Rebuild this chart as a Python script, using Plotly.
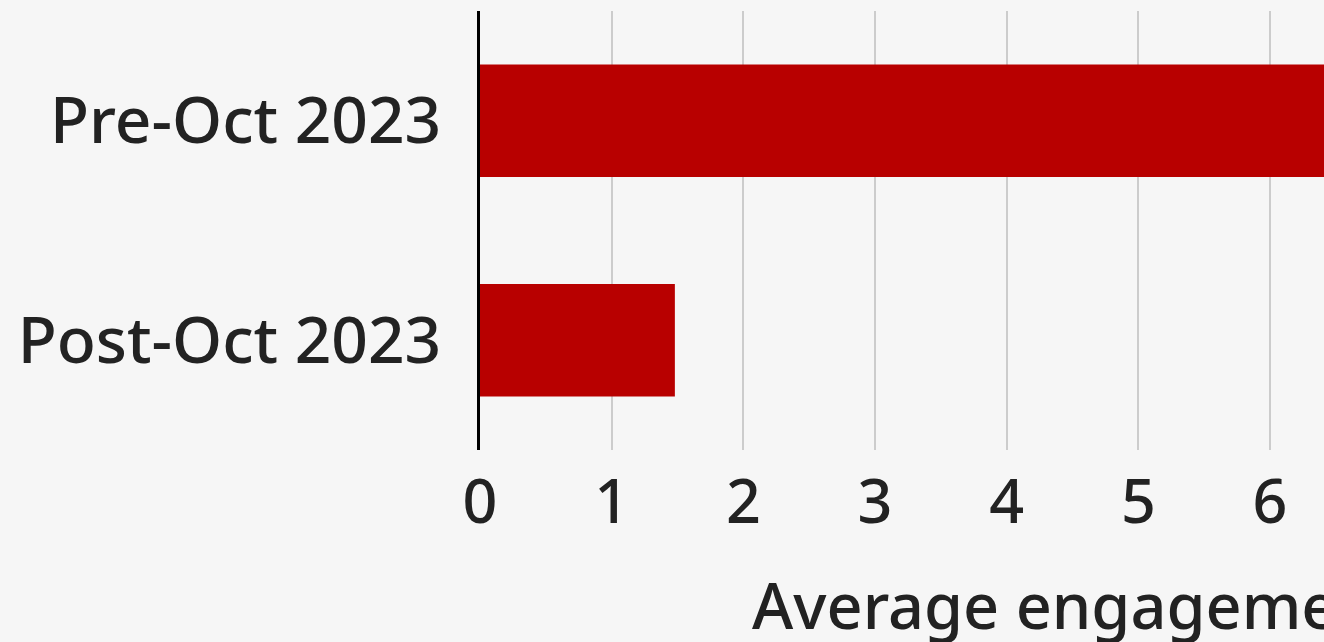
import plotly.graph_objects as go

categories = ["Pre-Oct 2023", "Post-Oct 2023"]
values = [7.6, 1.48]
tick_vals = [0, 1, 2, 3, 4, 5, 6]
axis_title = "Average engagement"

BG = "#f6f6f6"
RED = "#b80000"
TXT = "#222222"
FONT = "Noto Sans"
WEIGHT = 500

fig = go.Figure(
    go.Bar(
        y=categories,
        x=values,
        orientation="h",
        marker=dict(color=RED, line=dict(width=0)),
        hoverinfo="skip",
    )
)

fig.update_layout(
    width=1324,
    height=642,
    paper_bgcolor=BG,
    plot_bgcolor=BG,
    margin=dict(l=480, r=0, t=11, b=192),
    bargap=0.487,
    showlegend=False,
    font=dict(family=FONT, color=TXT, size=62, weight=WEIGHT),
)

fig.update_xaxes(
    range=[0, 6.41],
    tickvals=tick_vals,
    showgrid=True,
    gridcolor="#cccccc",
    gridwidth=1.5,
    zeroline=False,
    showline=False,
    ticks="",
    ticklabelstandoff=11,
    tickfont=dict(size=61, color=TXT, family=FONT, weight=WEIGHT),
)

fig.update_yaxes(
    categoryorder="array",
    categoryarray=categories[::-1],
    showgrid=False,
    zeroline=False,
    showline=True,
    linecolor="#000000",
    linewidth=3,
    ticks="",
    ticklabelstandoff=23,
    tickfont=dict(size=64, color=TXT, family=FONT, weight=WEIGHT),
)

fig.add_annotation(
    text=axis_title,
    xref="paper",
    yref="paper",
    x=(750 - 480) / 844,
    y=-0.351,
    xanchor="left",
    yanchor="middle",
    showarrow=False,
    font=dict(size=63, color=TXT, family=FONT, weight=WEIGHT),
)

fig.write_html(
    "out.html",
    config={"displayModeBar": False},
    post_script="document.body.style.margin='0';document.body.style.overflow='hidden';",
)
